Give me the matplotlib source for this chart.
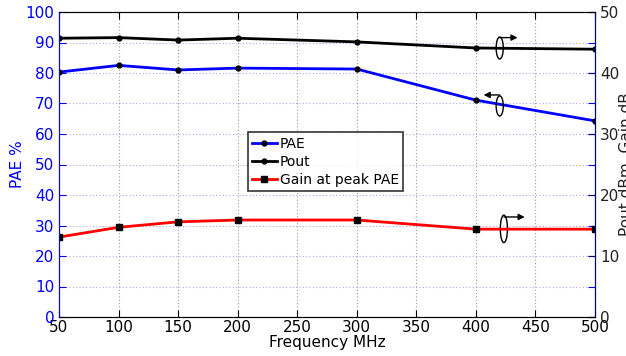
import numpy as np
import matplotlib.pyplot as plt
from matplotlib.patches import Ellipse

freq = [50, 100, 150, 200, 300, 400, 500]
pae = [80.3, 82.5, 81.0, 81.6, 81.3, 71.1, 64.3]
pout = [45.7, 45.8, 45.4, 45.7, 45.1, 44.1, 43.9]
gain = [13.1, 14.7, 15.6, 15.9, 15.9, 14.4, 14.4]

fig = plt.figure(figsize=(6.26, 3.56), dpi=100)
ax1 = fig.add_axes([59 / 626, 1 - 317 / 356, 536 / 626, 305 / 356])
ax2 = ax1.twinx()

blue = '#0000ff'
navy = '#00007f'

# grid
for v in range(10, 100, 10):
    ax1.axhline(v, color='#aaaaee', lw=0.8, ls=(0, (1, 2)), zorder=0)
for v in range(100, 500, 50):
    ax1.axvline(v, color='#999999', lw=0.8, ls=(0, (1, 2)), zorder=0)

l1, = ax1.plot(freq, pae, color=blue, lw=2, marker='.', ms=7, mfc='k', mec='k', label='PAE')
l2, = ax2.plot(freq, pout, color='k', lw=2, marker='.', ms=7, mfc='k', mec='k', label='Pout')
l3, = ax2.plot(freq, gain, color='red', lw=2, marker='s', ms=4, mfc='k', mec='k', label='Gain at peak PAE')

ax1.set_xlim(50, 500)
ax1.set_ylim(0, 100)
ax2.set_ylim(0, 50)
ax1.set_xticks(range(50, 501, 50))
ax1.set_yticks(range(0, 101, 10))
ax2.set_yticks(range(0, 51, 10))

ax1.tick_params(axis='y', colors=blue, direction='in', right=True, labelsize=11, length=5)
ax1.tick_params(axis='x', direction='in', top=True, labelsize=11, length=5, pad=2)
ax2.tick_params(axis='y', colors=navy, labelcolor='#222222', direction='in', labelsize=11, length=5)
ax1.spines['left'].set_color(blue)
ax2.spines['left'].set_color(blue)
ax2.spines['right'].set_color(navy)

ax1.set_ylabel('PAE %', color=blue, fontsize=11)
ax1.yaxis.set_label_coords(-0.064, 0.5)
ax2.set_ylabel('Pout dBm, Gain dB', color='#222222', fontsize=11, labelpad=0)
ax1.set_xlabel('Frequency MHz', fontsize=11, labelpad=0)

leg = ax1.legend([l1, l2, l3], ['PAE', 'Pout', 'Gain at peak PAE'],
                 loc='upper left', bbox_to_anchor=(0.352, 0.605), fontsize=10,
                 frameon=True, fancybox=False, edgecolor='k', handlelength=1.8,
                 handletextpad=0.2, borderpad=0.3, labelspacing=0.3, borderaxespad=0)
leg.get_frame().set_linewidth(1.2)

# ellipse markers with arrows
def mark(x, y, h, ay, dx, ax):
    ax.add_patch(Ellipse((x, y), 6, h, fill=False, lw=1, ec='k', zorder=5))
    ax.annotate('', xy=(x + dx, ay), xytext=(x, ay),
                arrowprops=dict(arrowstyle='-|>', lw=1, color='k', mutation_scale=9,
                                shrinkA=0, shrinkB=0))

mark(420, 88.2, 7.2, 91.6, 15, ax1)
mark(420, 69.2, 6.6, 72.8, -13.5, ax1)
mark(423.5, 28.9, 9.0, 32.8, 17.5, ax1)

fig.savefig('out.png', dpi=100)
